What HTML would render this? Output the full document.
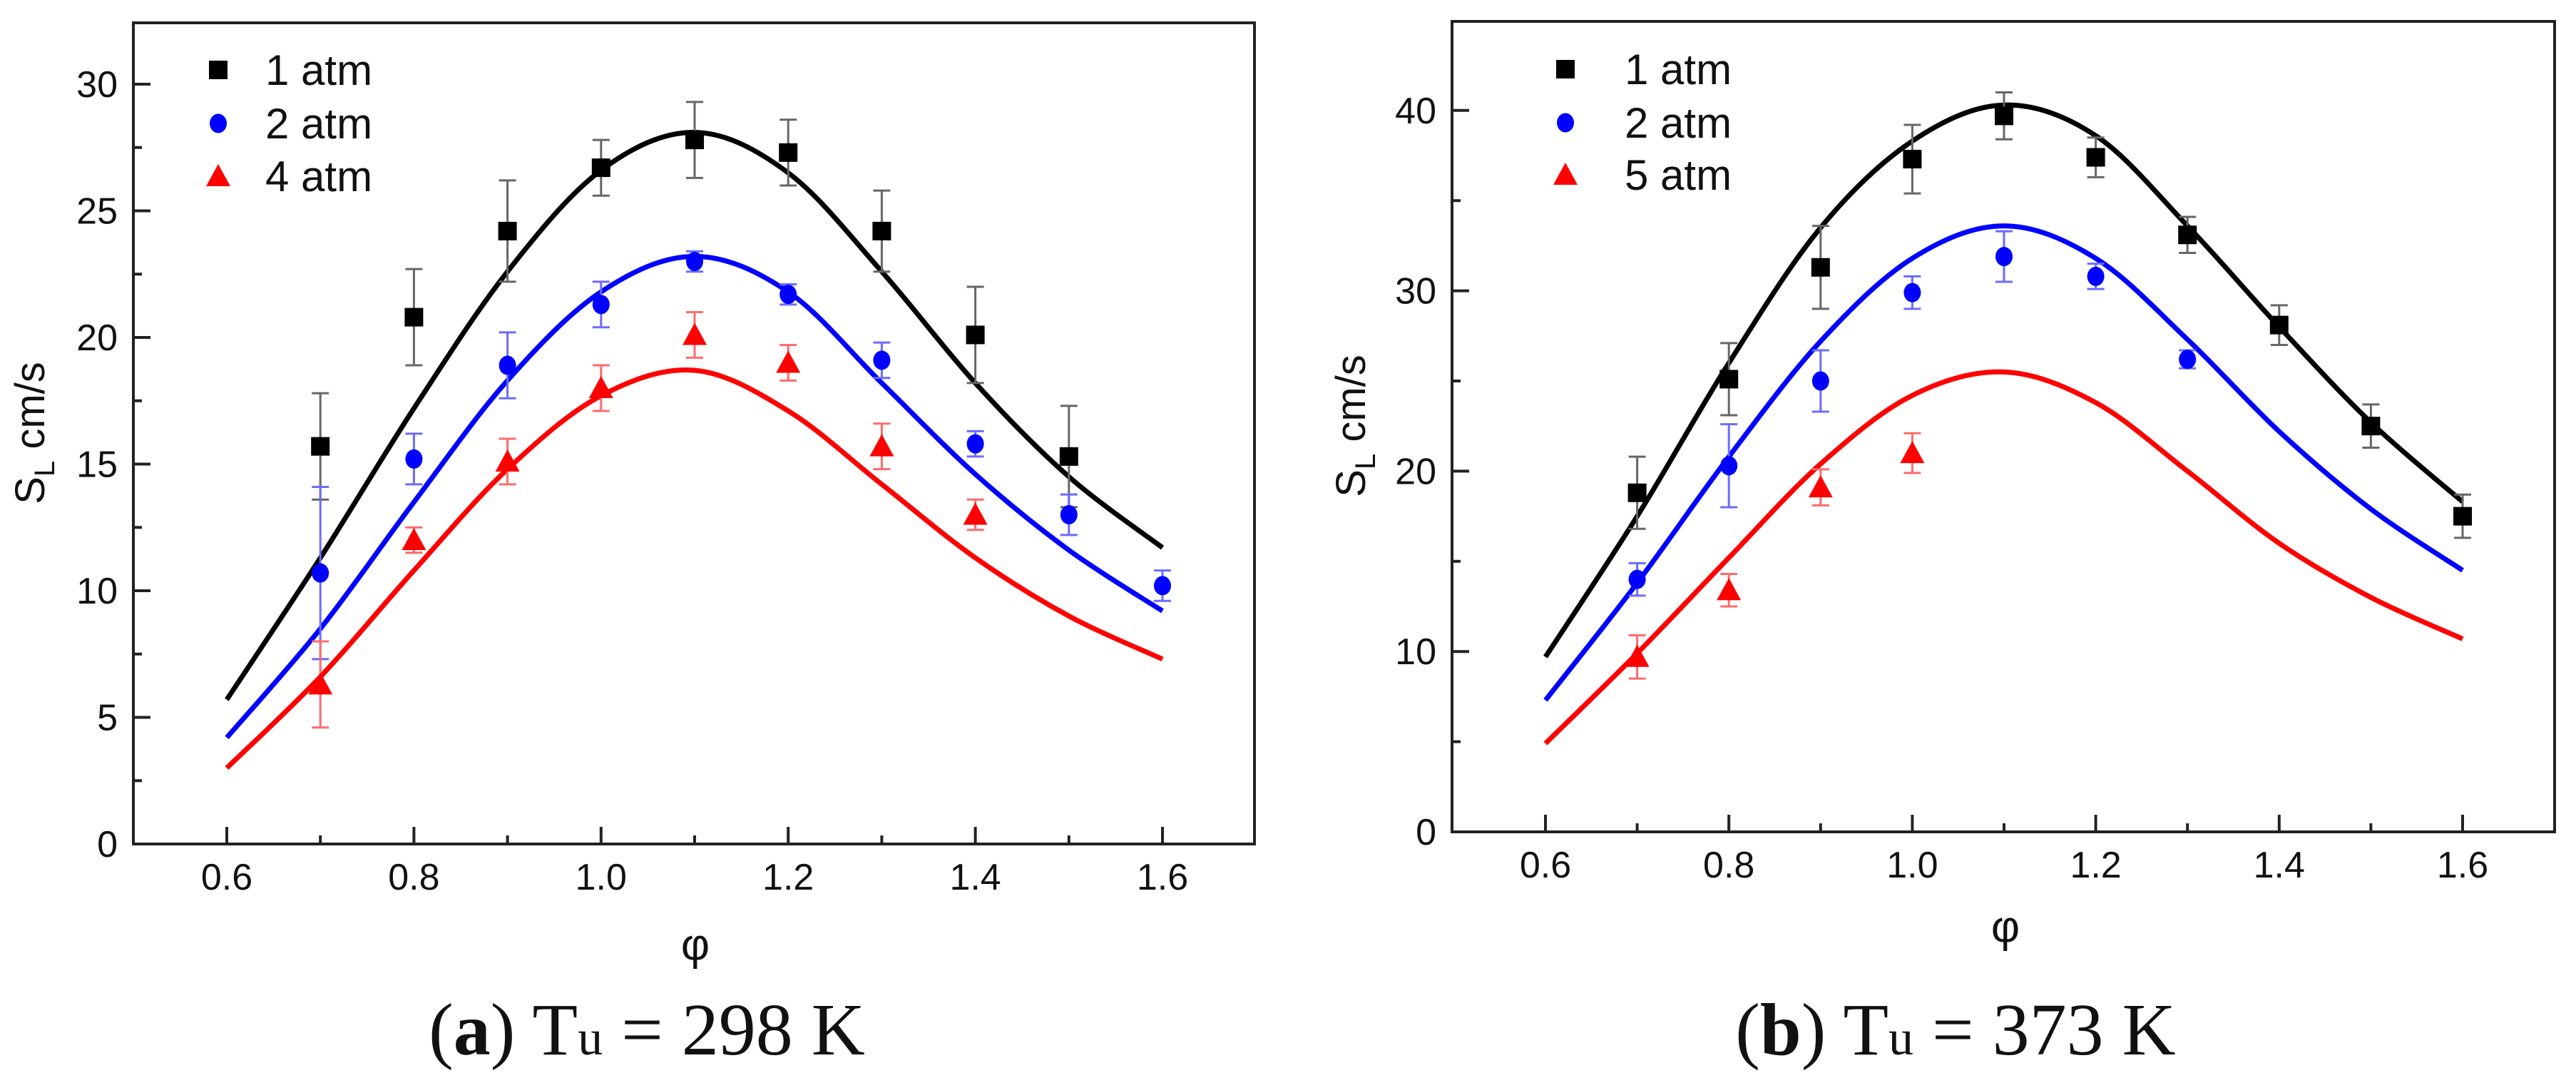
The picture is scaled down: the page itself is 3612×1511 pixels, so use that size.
<!DOCTYPE html>
<html><head><meta charset="utf-8"><style>
html,body{margin:0;padding:0;background:#fff;}
svg{display:block;}
text{font-family:"Liberation Sans",sans-serif;}
</style></head><body>
<svg id="fig" width="3612" height="1511" viewBox="0 0 3612 1511" xmlns="http://www.w3.org/2000/svg"></svg>
<script>
const xTicks = [0.6, 0.8, 1.0, 1.2, 1.4, 1.6];
const xTickLabels = ["0.6", "0.8", "1.0", "1.2", "1.4", "1.6"];
const curveX = [0.6, 0.7, 0.8, 0.9, 1.0, 1.1, 1.2, 1.3, 1.4, 1.5, 1.6];

// Panel (a)
const aYTicks = [0, 5, 10, 15, 20, 25, 30];
const aLegend = ["1 atm", "2 atm", "4 atm"];
const aX1 = [0.7, 0.8, 0.9, 1.0, 1.1, 1.2, 1.3, 1.4, 1.5];
const aY1 = [15.7, 20.8, 24.2, 26.7, 27.8, 27.3, 24.2, 20.1, 15.3];
const aE1 = [2.1, 1.9, 2.0, 1.1, 1.5, 1.3, 1.6, 1.9, 2.0];
const aX2 = [0.7, 0.8, 0.9, 1.0, 1.1, 1.2, 1.3, 1.4, 1.5, 1.6];
const aY2 = [10.7, 15.2, 18.9, 21.3, 23.0, 21.7, 19.1, 15.8, 13.0, 10.2];
const aE2 = [3.4, 1.0, 1.3, 0.9, 0.4, 0.4, 0.7, 0.5, 0.8, 0.6];
const aX3 = [0.7, 0.8, 0.9, 1.0, 1.1, 1.2, 1.3, 1.4];
const aY3 = [6.3, 12.0, 15.1, 18.0, 20.1, 19.0, 15.7, 13.0];
const aE3 = [1.7, 0.5, 0.9, 0.9, 0.9, 0.7, 0.9, 0.6];
const aC1 = [5.7, 11.3, 17.2, 22.6, 26.6, 28.1, 26.5, 22.6, 18.2, 14.5, 11.7];
const aC2 = [4.2, 8.5, 13.5, 18.3, 21.8, 23.2, 21.8, 18.2, 14.6, 11.6, 9.2];
const aC3 = [3.0, 6.6, 10.8, 14.8, 17.7, 18.7, 17.1, 14.2, 11.3, 9.0, 7.3];

// Panel (b)
const bYTicks = [0, 10, 20, 30, 40];
const bLegend = ["1 atm", "2 atm", "5 atm"];
const bX1 = [0.7, 0.8, 0.9, 1.0, 1.1, 1.2, 1.3, 1.4, 1.5, 1.6];
const bY1 = [18.8, 25.1, 31.3, 37.3, 39.7, 37.4, 33.1, 28.1, 22.5, 17.5];
const bE1 = [2.0, 2.0, 2.3, 1.9, 1.3, 1.1, 1.0, 1.1, 1.2, 1.2];
const bX2 = [0.7, 0.8, 0.9, 1.0, 1.1, 1.2, 1.3];
const bY2 = [14.0, 20.3, 25.0, 29.9, 31.9, 30.8, 26.2];
const bE2 = [0.9, 2.3, 1.7, 0.9, 1.4, 0.7, 0.5];
const bX3 = [0.7, 0.8, 0.9, 1.0];
const bY3 = [9.7, 13.4, 19.1, 21.0];
const bE3 = [1.2, 0.9, 1.0, 1.1];
const bC1 = [9.7, 17.5, 26.0, 33.5, 38.3, 40.3, 38.6, 33.6, 28.0, 22.7, 18.3];
const bC2 = [7.3, 13.8, 20.8, 27.2, 31.8, 33.6, 31.8, 27.3, 22.2, 17.9, 14.5];
const bC3 = [4.9, 9.9, 15.2, 20.4, 24.2, 25.5, 23.8, 20.0, 16.0, 13.0, 10.7];

const NS = "http://www.w3.org/2000/svg";
const svg = document.getElementById("fig");
function mk(tag, attrs, parent) {
  const e = document.createElementNS(NS, tag);
  for (const k in attrs) e.setAttribute(k, attrs[k]);
  (parent || svg).appendChild(e);
  return e;
}

function panel(cfg) {
  const g = mk("g", {});
  
  
  const X = v => cfg.x06 + (v - 0.6) / 1.0 * (cfg.x16 - cfg.x06);
  const Y = v => cfg.y0 - v * cfg.ky;
  const fr = mk("rect", {x: cfg.left, y: cfg.top, width: cfg.right - cfg.left, height: cfg.y0 - cfg.top, fill: "none", stroke: "#222", "stroke-width": 4}, g);
  
  
  for (let i = 0; i < xTicks.length; i++) {
    const x = X(xTicks[i]);
    mk("line", {x1: x, x2: x, y1: cfg.y0, y2: cfg.y0 - 24, stroke: "#222", "stroke-width": 4}, g);
    if (i < xTicks.length - 1) {
      const xm = X(xTicks[i] + 0.1);
      mk("line", {x1: xm, x2: xm, y1: cfg.y0, y2: cfg.y0 - 12, stroke: "#222", "stroke-width": 4}, g);
    }
    const t = mk("text", {x: x, y: cfg.y0 + 64, "font-size": 52, "text-anchor": "middle", fill: "#111"}, g);
    t.textContent = xTickLabels[i];
    
    
  }
  const yt = cfg.yTicks;
  const step = yt[1] - yt[0];
  for (let i = 0; i < yt.length; i++) {
    const y = Y(yt[i]);
    mk("line", {x1: cfg.left, x2: cfg.left + 24, y1: y, y2: y, stroke: "#222", "stroke-width": 4}, g);
    const ym = Y(yt[i] + step / 2);
    if (ym > cfg.top + 5) mk("line", {x1: cfg.left, x2: cfg.left + 12, y1: ym, y2: ym, stroke: "#222", "stroke-width": 4}, g);
    const t = mk("text", {x: cfg.left - 22, y: y + 18, "font-size": 52, "text-anchor": "end", fill: "#111"}, g);
    t.textContent = String(yt[i]);
    
    
  }
  const yl = mk("text", {transform: `translate(${cfg.ylx},${cfg.yly}) rotate(-90)`, "font-size": 58, "text-anchor": "middle", fill: "#111"}, g);
  yl.innerHTML = 'S<tspan font-size="40" dy="14">L</tspan><tspan dy="-14"> cm/s</tspan>';
  
  
  const xl = mk("text", {x: cfg.xlx, y: cfg.xly, "font-size": 62, "text-anchor": "middle", fill: "#111"}, g);
  xl.textContent = "φ";
  
  
  const colors = ["#000", "#0000ff", "#ff0000"];
  const errColors = ["#666", "#6b6bff", "#ff6b6b"];
  cfg.curves.forEach((c, ci) => {
    const pts = curveX.map((v, i) => [X(v), Y(c[i])]);
    let d = `M${pts[0][0]},${pts[0][1]}`;
    for (let i = 0; i < pts.length - 1; i++) {
      const p0 = pts[Math.max(0, i - 1)], p1 = pts[i], p2 = pts[i + 1], p3 = pts[Math.min(pts.length - 1, i + 2)];
      const c1x = p1[0] + (p2[0] - p0[0]) / 6, c1y = p1[1] + (p2[1] - p0[1]) / 6;
      const c2x = p2[0] - (p3[0] - p1[0]) / 6, c2y = p2[1] - (p3[1] - p1[1]) / 6;
      d += ` C${c1x},${c1y} ${c2x},${c2y} ${p2[0]},${p2[1]}`;
    }
    const p = mk("path", {d: d, fill: "none", stroke: colors[ci], "stroke-width": 7}, g);
    
    
  });
  cfg.series.forEach((s, si) => {
    const sg = mk("g", {}, g);
    
    
    for (let i = 0; i < s.x.length; i++) {
      const x = X(s.x[i]), y = Y(s.y[i]);
      const y1 = Y(s.y[i] + s.e[i]), y2 = Y(s.y[i] - s.e[i]);
      const eb = mk("path", {d: `M${x},${y1}V${y2}M${x - 12},${y1}H${x + 12}M${x - 12},${y2}H${x + 12}`, stroke: errColors[si], "stroke-width": 3, fill: "none"}, sg);
      
      
      const m = marker(sg, si, x, y);
      
      
    }
  });
  cfg.legend.forEach((lab, i) => {
    const ly = cfg.legY[i];
    const lg = mk("g", {}, g);
    
    
    marker(lg, i, cfg.legMx, ly);
    const t = mk("text", {x: cfg.legTx, y: ly + 21, "font-size": 60, fill: "#111"}, lg);
    t.textContent = lab;
  });
}
function marker(parent, kind, x, y) {
  if (kind === 0) return mk("rect", {x: x - 13, y: y - 13, width: 26, height: 26, fill: "#000"}, parent);
  if (kind === 1) return mk("ellipse", {cx: x, cy: y, rx: 12, ry: 13.5, fill: "#0000ff"}, parent);
  return mk("polygon", {points: `${x},${y - 17} ${x + 17},${y + 14} ${x - 17},${y + 14}`, fill: "#ff0000"}, parent);
}

panel({name: "panel-a", left: 187, right: 1759, top: 32, y0: 1183, ky: 35.5, x06: 318, x16: 1630,
  yTicks: aYTicks, ylx: 62, yly: 607, xlx: 975, xly: 1345,
  curves: [aC1, aC2, aC3],
  series: [{x: aX1, y: aY1, e: aE1}, {x: aX2, y: aY2, e: aE2}, {x: aX3, y: aY3, e: aE3}],
  legend: aLegend, legY: [98, 173, 247], legMx: 306, legTx: 372});
panel({name: "panel-b", left: 2036, right: 3582, top: 30, y0: 1166, ky: 25.28, x06: 2167, x16: 3453,
  yTicks: bYTicks, ylx: 1914, yly: 597, xlx: 2812, xly: 1320,
  curves: [bC1, bC2, bC3],
  series: [{x: bX1, y: bY1, e: bE1}, {x: bX2, y: bY2, e: bE2}, {x: bX3, y: bY3, e: bE3}],
  legend: bLegend, legY: [97, 172, 245], legMx: 2195, legTx: 2278});

function caption(x, letter, rest, name) {
  const t = mk("text", {x: x, y: 1478, "font-size": 104, "text-anchor": "middle", fill: "#111", style: 'font-family:"Liberation Serif",serif'});
  t.innerHTML = `(<tspan font-weight="bold">${letter}</tspan>) T<tspan font-size="70">u</tspan> = ${rest}`;
  
  
}
caption(907, "a", "298 K", "caption-a");
caption(2742, "b", "373 K", "caption-b");
</script>
</body></html>
